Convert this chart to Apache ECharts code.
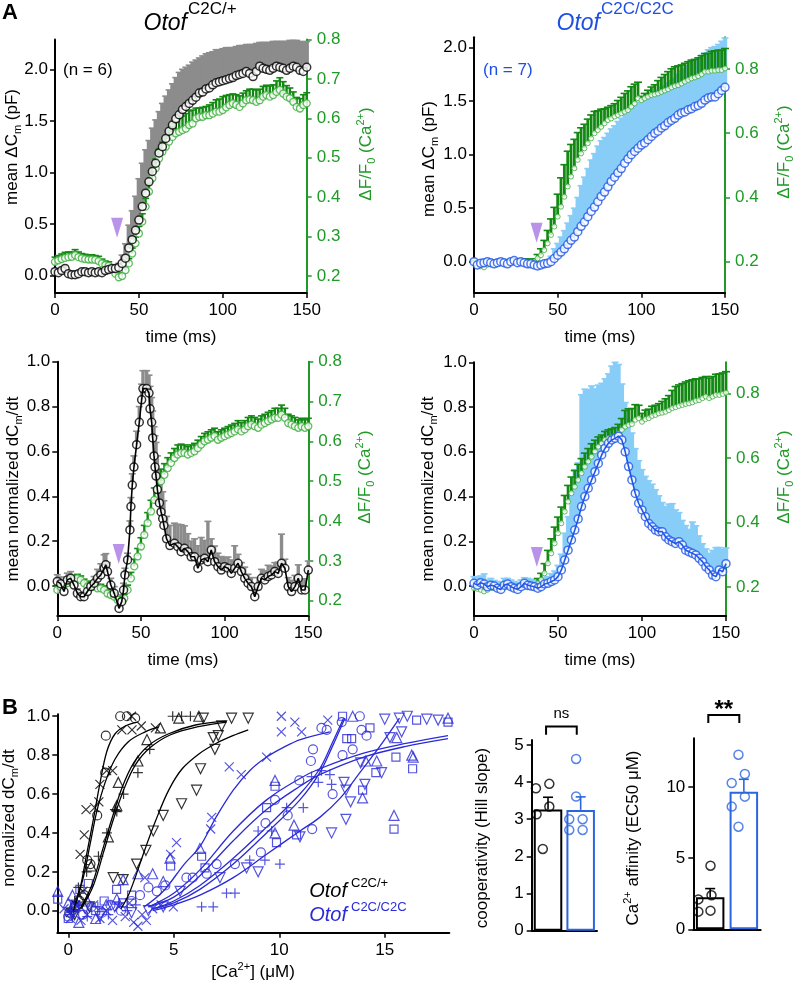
<!DOCTYPE html>
<html><head><meta charset="utf-8">
<script src="https://cdn.jsdelivr.net/npm/echarts@6/dist/echarts.min.js"></script>
<style>html,body{margin:0;padding:0;background:#fff}#wrap{position:relative;width:793px;height:985px}
.layer{position:absolute;left:0;top:0;width:793px;height:985px}#log{position:absolute;left:0;top:0;font:11px monospace;white-space:pre-wrap;color:red;z-index:99}</style>
</head><body><div id="wrap"></div><div id="log"></div>
<script>
// ---------- DATA ----------
const time2 = [0,2,4,6,8,10,12,14,16,18,
20,22,24,26,28,30,32,34,36,38,
40,42,44,46,48,50,52,54,56,58,
60,62,64,66,68,70,72,74,76,78,
80,82,84,86,88,90,92,94,96,98,
100,102,104,106,108,110,112,114,116,118,
120,122,124,126,128,130,132,134,136,138,
140,142,144,146,148,150];

const tlCm = [0.04,0.03,0.05,0.07,0.02,0.01,0.01,0.02,0.04,0.04,
0.03,0.04,0.03,0.04,0.03,0.05,0.06,0.07,0.07,0.08,
0.12,0.17,0.27,0.35,0.44,0.54,0.67,0.80,0.91,1.01,
1.09,1.19,1.25,1.33,1.40,1.46,1.52,1.56,1.61,1.64,
1.67,1.70,1.73,1.77,1.78,1.81,1.82,1.85,1.87,1.88,
1.89,1.90,1.91,1.92,1.94,1.95,1.96,1.98,1.96,1.93,
1.98,2.03,2.01,2.00,1.99,2.01,2.03,2.02,2.01,1.99,
2.01,2.03,2.02,1.99,1.98,2.02];
const tlCmErr = [0.03,0.03,0.03,0.03,0.02,0.02,0.02,0.02,0.02,0.02,
0.02,0.02,0.02,0.02,0.02,0.03,0.03,0.03,0.03,0.04,
0.08,0.14,0.22,0.28,0.33,0.40,0.42,0.42,0.40,0.42,
0.42,0.40,0.42,0.41,0.40,0.40,0.40,0.41,0.39,0.38,
0.37,0.37,0.36,0.34,0.35,0.34,0.34,0.32,0.32,0.31,
0.31,0.31,0.30,0.29,0.28,0.28,0.27,0.26,0.28,0.31,
0.27,0.23,0.25,0.26,0.27,0.26,0.24,0.25,0.26,0.28,
0.27,0.25,0.26,0.28,0.28,0.25];
const tlCa = [0.236,0.240,0.243,0.246,0.248,0.249,0.253,0.248,0.245,0.243,
0.242,0.242,0.241,0.238,0.232,0.228,0.226,0.218,0.206,0.197,
0.200,0.215,0.232,0.257,0.283,0.308,0.338,0.376,0.414,0.448,
0.473,0.498,0.515,0.528,0.541,0.553,0.562,0.566,0.570,0.574,
0.583,0.587,0.600,0.604,0.604,0.608,0.608,0.612,0.617,0.617,
0.621,0.628,0.634,0.638,0.634,0.629,0.638,0.646,0.648,0.646,
0.642,0.646,0.655,0.659,0.655,0.659,0.667,0.672,0.663,0.655,
0.651,0.642,0.629,0.625,0.634,0.638];
const tlCaErr = [0.012,0.012,0.013,0.014,0.013,0.012,0.014,0.013,0.012,0.012,
0.011,0.012,0.011,0.012,0.011,0.010,0.010,0.009,0.009,0.008,
0.008,0.010,0.012,0.014,0.016,0.018,0.020,0.021,0.022,0.022,
0.024,0.024,0.025,0.026,0.026,0.027,0.030,0.034,0.036,0.038,
0.036,0.034,0.026,0.022,0.024,0.022,0.026,0.028,0.030,0.032,
0.034,0.030,0.026,0.024,0.026,0.028,0.026,0.024,0.026,0.028,
0.030,0.028,0.026,0.025,0.027,0.026,0.028,0.031,0.030,0.028,
0.026,0.025,0.024,0.025,0.026,0.027];

const trCm = [0.00,-0.03,-0.015,-0.01,0.00,-0.01,-0.02,-0.01,0.00,-0.01,
-0.02,0.00,0.01,-0.01,0.00,-0.01,-0.02,-0.02,-0.03,-0.04,
-0.03,-0.02,-0.015,0.00,0.03,0.06,0.09,0.12,0.16,0.20,
0.23,0.28,0.33,0.37,0.42,0.47,0.51,0.56,0.61,0.65,
0.70,0.75,0.79,0.83,0.87,0.92,0.96,1.00,1.03,1.06,
1.09,1.11,1.14,1.17,1.20,1.22,1.25,1.27,1.30,1.32,
1.34,1.37,1.39,1.40,1.42,1.43,1.45,1.46,1.48,1.51,
1.53,1.54,1.54,1.57,1.60,1.63];
const trCmErr = [0.02,0.02,0.02,0.02,0.02,0.02,0.02,0.02,0.02,0.02,
0.02,0.02,0.02,0.02,0.02,0.02,0.02,0.02,0.02,0.02,
0.02,0.02,0.03,0.05,0.09,0.11,0.14,0.17,0.20,0.23,
0.27,0.32,0.38,0.42,0.45,0.48,0.50,0.52,0.52,0.51,
0.50,0.49,0.48,0.48,0.47,0.47,0.46,0.45,0.44,0.43,
0.42,0.42,0.41,0.40,0.39,0.38,0.38,0.37,0.37,0.37,
0.37,0.38,0.39,0.40,0.41,0.42,0.43,0.44,0.44,0.44,
0.45,0.46,0.47,0.46,0.46,0.46];
const trCa = [0.195,0.190,0.185,0.182,0.190,0.192,0.195,0.196,0.195,0.196,
0.197,0.198,0.199,0.198,0.199,0.200,0.199,0.200,0.200,0.210,
0.220,0.236,0.257,0.283,0.309,0.340,0.371,0.402,0.434,0.465,
0.491,0.517,0.537,0.553,0.569,0.584,0.600,0.610,0.620,0.631,
0.641,0.646,0.652,0.657,0.662,0.667,0.672,0.683,0.693,0.709,
0.703,0.709,0.714,0.719,0.721,0.724,0.729,0.733,0.737,0.743,
0.747,0.750,0.755,0.761,0.766,0.771,0.774,0.778,0.784,0.792,
0.792,0.795,0.795,0.797,0.797,0.802];
const trCaErr = [0.008,0.008,0.008,0.008,0.008,0.008,0.008,0.008,0.008,0.008,
0.008,0.008,0.008,0.008,0.008,0.008,0.008,0.008,0.008,0.012,
0.020,0.030,0.040,0.050,0.060,0.070,0.090,0.100,0.110,0.100,
0.090,0.085,0.080,0.075,0.075,0.073,0.068,0.060,0.055,0.045,
0.040,0.040,0.040,0.045,0.050,0.057,0.060,0.062,0.060,0.050,
0.012,0.015,0.020,0.025,0.030,0.040,0.045,0.050,0.055,0.058,
0.060,0.060,0.058,0.057,0.057,0.057,0.056,0.057,0.058,0.056,
0.057,0.060,0.062,0.062,0.062,0.062];

const blTime = [0,2,4,6,8,10,12,14,16,18,
20,22,24,26,28,29,30,32,34,36.9,
38.5,39.6,40.4,42,43.4,44,44.8,45.8,47.4,49,
50.4,51.2,53.4,54.8,55.4,56.4,57,57.8,58.4,59,
59.8,61,62,63,63.7,65.3,67.3,70,72,74,
76,78,80,82,84,86,88,90,92,94,
96,98,100,102,104,106,108,110,112,114,
116,118,120,122,124,126,128,130,132,134,
136,138,140,142,144,146,148,150];
const blRate = [0.02,0.01,-0.025,0.027,0.034,0.004,-0.033,-0.048,-0.048,-0.025,
-0.003,0.012,0.034,0.049,0.079,0.094,0.064,0.004,-0.033,-0.1,
-0.07,-0.018,0.049,0.116,0.25,0.354,0.45,0.53,0.63,0.73,
0.83,0.88,0.88,0.86,0.79,0.73,0.66,0.58,0.53,0.49,
0.43,0.37,0.33,0.30,0.27,0.21,0.18,0.19,0.175,0.153,
0.168,0.153,0.13,0.13,0.079,0.116,0.123,0.108,0.16,0.108,
0.086,0.071,0.086,0.079,0.056,0.079,0.101,0.064,0.034,0.012,
-0.003,-0.048,-0.003,0.034,0.027,0.042,0.049,0.064,0.056,0.101,
0.079,-0.003,-0.025,-0.003,0.034,-0.018,-0.018,0.071];
const blRateErr = [0.03,0.03,0.04,0.03,0.03,0.03,0.02,0.02,0.02,0.02,
0.02,0.03,0.04,0.05,0.06,0.05,0.04,0.03,0.03,0.03,
0.03,0.03,0.03,0.03,0.04,0.04,0.05,0.05,0.06,0.07,
0.07,0.08,0.08,0.08,0.10,0.11,0.12,0.13,0.14,0.15,
0.15,0.15,0.14,0.12,0.11,0.10,0.09,0.09,0.10,0.12,
0.10,0.08,0.07,0.08,0.10,0.10,0.08,0.18,0.05,0.07,
0.06,0.06,0.04,0.05,0.06,0.10,0.04,0.04,0.05,0.04,
0.04,0.04,0.04,0.04,0.04,0.05,0.04,0.04,0.05,0.13,
0.04,0.04,0.05,0.05,0.06,0.05,0.05,0.04];
const blCa = [0.227,0.235,0.239,0.244,0.248,0.252,0.256,0.252,0.244,0.235,
0.239,0.235,0.231,0.231,0.227,0.218,0.214,0.210,0.202,0.197,
0.206,0.227,0.256,0.286,0.311,0.336,0.365,0.395,0.424,0.453,
0.479,0.500,0.516,0.533,0.546,0.558,0.567,0.571,0.571,0.567,
0.571,0.575,0.583,0.592,0.600,0.604,0.609,0.613,0.604,0.609,
0.613,0.617,0.621,0.625,0.630,0.625,0.630,0.638,0.642,0.638,
0.634,0.642,0.646,0.651,0.655,0.659,0.659,0.667,0.659,0.646,
0.642,0.638,0.634,0.638,0.634,0.638];
const blCaErr = [0.010,0.010,0.011,0.012,0.012,0.011,0.010,0.010,0.010,0.010,
0.010,0.010,0.010,0.010,0.010,0.010,0.009,0.009,0.008,0.008,
0.010,0.012,0.015,0.018,0.020,0.022,0.024,0.026,0.028,0.030,
0.030,0.030,0.028,0.026,0.025,0.024,0.024,0.022,0.020,0.020,
0.020,0.020,0.020,0.020,0.020,0.020,0.020,0.020,0.020,0.020,
0.020,0.020,0.020,0.020,0.022,0.022,0.022,0.022,0.022,0.022,
0.022,0.022,0.022,0.022,0.022,0.024,0.024,0.024,0.024,0.022,
0.022,0.022,0.020,0.020,0.020,0.020];

const brRate = [0.012,0.004,0.015,0.009,-0.003,0.004,0.0,-0.010,-0.015,0.004,
0.009,-0.003,-0.010,-0.015,-0.003,0.012,0.004,0.0,-0.003,-0.010,
-0.003,0.009,0.012,0.020,0.027,0.042,0.072,0.116,0.160,0.206,
0.250,0.300,0.355,0.400,0.437,0.474,0.511,0.548,0.586,0.616,
0.638,0.653,0.660,0.670,0.653,0.600,0.534,0.474,0.414,0.370,
0.340,0.310,0.280,0.265,0.250,0.243,0.243,0.220,0.206,0.198,
0.190,0.198,0.183,0.160,0.153,0.146,0.139,0.124,0.109,0.086,
0.072,0.049,0.042,0.072,0.064,0.100];
const brRateErr = [0.03,0.035,0.03,0.045,0.03,0.03,0.025,0.03,0.03,0.03,
0.025,0.03,0.03,0.03,0.03,0.025,0.03,0.03,0.03,0.03,
0.03,0.03,0.03,0.035,0.04,0.05,0.07,0.12,0.15,0.20,
0.27,0.25,0.50,0.48,0.44,0.42,0.37,0.35,0.32,0.31,
0.31,0.33,0.34,0.32,0.25,0.22,0.21,0.21,0.20,0.19,
0.18,0.18,0.19,0.19,0.18,0.16,0.13,0.135,0.16,0.17,
0.15,0.13,0.11,0.11,0.10,0.14,0.13,0.10,0.08,0.08,
0.074,0.11,0.13,0.10,0.10,0.07];
const brCa = [0.197,0.195,0.192,0.187,0.192,0.197,0.198,0.199,0.199,0.200,
0.200,0.200,0.199,0.200,0.201,0.200,0.200,0.201,0.202,0.212,
0.223,0.243,0.274,0.305,0.336,0.367,0.398,0.434,0.465,0.491,
0.511,0.532,0.553,0.573,0.589,0.604,0.620,0.635,0.645,0.656,
0.661,0.664,0.668,0.676,0.687,0.697,0.702,0.705,0.718,0.723,
0.712,0.720,0.723,0.730,0.733,0.738,0.740,0.743,0.748,0.754,
0.757,0.761,0.764,0.767,0.769,0.772,0.777,0.779,0.785,0.790,
0.785,0.790,0.795,0.795,0.798,0.802];
const brCaErr = [0.008,0.008,0.008,0.008,0.008,0.008,0.008,0.008,0.008,0.008,
0.008,0.008,0.008,0.008,0.008,0.008,0.008,0.008,0.010,0.015,
0.020,0.030,0.040,0.045,0.050,0.050,0.050,0.050,0.050,0.050,
0.050,0.048,0.045,0.042,0.040,0.040,0.035,0.030,0.026,0.026,
0.026,0.026,0.026,0.028,0.035,0.050,0.050,0.048,0.047,0.040,
0.026,0.028,0.028,0.030,0.030,0.030,0.035,0.040,0.045,0.055,
0.064,0.065,0.066,0.068,0.070,0.070,0.068,0.066,0.064,0.062,
0.062,0.062,0.064,0.065,0.065,0.065];

const stimTL = [[37, 0.465]];
const stimTR = [[37.4, 0.27]];
const stimBL = [[36.7, 0.143]];
const stimBR = [[37.4, 0.13]];

const hetCircle = [[0.05,-0.01],[0.3,0.02],[0.55,0.05],[0.75,0.08],[0.9,0.26],[1.05,0.24],[1.37,0.49],[1.75,0.71],[1.78,0.9],[2.46,1.0],[2.78,1.0],[3.17,0.99]];
const hetCross = [[0.1,-0.01],[0.35,0.03],[0.56,0.29],[0.76,0.39],[0.84,0.52],[0.7,0.1],[1.25,0.53],[1.45,0.56],[1.5,0.65],[1.82,0.72],[2.1,0.72],[2.54,0.93],[3.02,0.93],[3.46,0.95],[4.13,0.94],[3.0,1.0]];
const hetPlus = [[0.15,0.0],[0.3,0.05],[0.48,0.12],[0.87,0.2],[1.43,0.28],[1.83,0.4],[2.21,0.52],[2.3,0.51],[2.62,0.6],[3.3,0.71],[3.86,0.83],[4.95,1.0],[5.37,1.0],[5.79,1.0]];
const hetTri = [[0.2,0.02],[0.5,0.07],[1.08,0.23],[1.9,0.38],[2.3,0.54],[2.37,0.66],[3.3,0.77],[3.73,0.88],[4.37,0.94],[5.24,0.99],[6.19,1.0]];
const hetTriDown = [[0.3,-0.02],[1.0,0.02],[2.13,0.17],[2.6,0.16],[3.24,0.24],[3.68,0.31],[4.03,0.41],[4.5,0.49],[5.37,0.55],[6.08,0.62],[6.27,0.73],[6.95,0.83],[6.87,0.89],[7.11,0.9],[7.27,0.95],[6.4,0.99],[7.74,0.99],[8.53,0.99]];

const homCross = [[-0.2,0.01],[0.1,-0.04],[0.4,0.02],[0.6,-0.05],[0.9,-0.02],[1.2,0.03],[1.5,-0.04],[1.8,0.0],[2.1,-0.05],[2.4,0.02],[2.7,-0.03],[2.9,0.04],[3.1,-0.06],[3.3,-0.08],[3.5,-0.02],[3.7,-0.05],[4.0,0.01],[4.4,0.03],[4.98,0.02],[3.63,0.17],[4.85,0.29],[5.13,0.35],[6.75,0.42],[6.8,0.48],[7.63,0.74],[8.2,0.7],[9.4,0.79],[10.1,1.0],[10.1,0.92],[10.74,0.97],[11.06,0.92],[12.3,0.98]];
const homCircle = [[0.0,-0.03],[0.3,0.01],[0.7,-0.02],[1.1,0.02],[1.6,-0.01],[2.0,0.03],[2.5,0.0],[3.0,0.05],[3.4,0.08],[3.8,0.12],[4.2,0.1],[4.6,0.13],[5.6,0.17],[5.9,0.17],[6.56,0.19],[7.03,0.24],[7.9,0.24],[9.13,0.3],[9.35,0.45],[9.8,0.57],[10.4,0.49],[10.95,0.67],[11.56,0.42],[11.5,0.77],[11.6,0.83],[12.0,0.94],[12.25,0.93],[12.53,0.6],[12.96,0.97],[13.0,0.8],[13.48,0.83],[13.82,1.0],[13.9,0.93],[14.14,0.9]];
const homPlus = [[0.1,0.0],[0.5,0.03],[0.9,-0.03],[1.4,0.02],[1.9,-0.02],[2.4,0.04],[2.8,0.0],[3.2,0.03],[6.32,0.02],[6.87,0.02],[7.5,0.09],[7.9,0.09],[8.6,0.26],[9.32,0.26],[9.0,0.41],[9.64,0.41],[10.03,0.24],[10.35,0.53],[11.14,0.53],[11.53,0.69],[11.85,0.66],[12.0,0.72],[12.4,0.7],[12.48,0.65]];
const homTri = [[-0.5,0.1],[0.0,0.04],[0.2,0.08],[0.5,-0.06],[0.9,0.05],[1.3,-0.04],[1.8,0.03],[2.3,0.06],[2.6,0.16],[3.3,0.19],[4.0,0.19],[4.5,0.15],[4.82,0.27],[6.24,0.32],[9.8,0.67],[9.8,0.4],[10.7,0.44],[13.48,1.0],[13.95,0.58],[14.1,0.77],[14.62,0.77],[15.44,0.49],[15.57,0.89],[16.28,0.8],[16.35,0.79],[18.0,0.99]];
const homSquare = [[-0.5,0.06],[0.0,-0.04],[0.3,0.02],[0.55,0.11],[0.95,0.14],[1.3,0.0],[1.7,0.05],[2.29,0.11],[2.6,0.04],[3.0,0.08],[4.85,0.23],[6.32,0.28],[6.48,0.22],[9.4,0.53],[9.8,0.64],[9.87,0.35],[10.82,0.39],[13.0,1.0],[13.2,0.885],[13.43,0.885],[13.95,0.62],[14.3,0.94],[14.58,0.71],[15.44,0.42],[15.53,0.79],[16.32,0.73],[16.51,0.98],[18.0,0.97]];
const homTriDown = [[0.2,-0.02],[0.8,0.01],[1.5,-0.03],[2.2,0.02],[3.0,-0.01],[3.8,0.0],[4.5,0.02],[5.3,0.1],[7.19,0.17],[8.45,0.22],[9.0,0.2],[10.98,0.38],[12.48,0.4],[13.16,0.47],[13.38,0.56],[13.16,0.62],[13.07,0.66],[14.06,0.65],[14.85,0.71],[13.86,0.76],[15.25,0.89],[15.8,0.92],[15.0,0.985],[15.69,0.99],[16.07,1.0],[16.99,0.985],[17.53,0.98]];

const hetCircleFit = [[0.24,0.0],[0.56,0.115],[0.87,0.29],[1.19,0.47],[1.51,0.66],[1.83,0.82],[2.22,0.91],[2.7,0.95],[3.25,0.97]];
const hetCrossFit = [[0.32,0.03],[0.71,0.17],[1.03,0.34],[1.35,0.51],[1.75,0.66],[2.22,0.78],[2.86,0.87],[3.65,0.92],[4.29,0.945]];
const hetPlusFit = [[0.56,0.01],[1.11,0.13],[1.59,0.3],[2.06,0.47],[2.54,0.63],[3.1,0.76],[3.81,0.85],[4.76,0.91],[6.03,0.955],[7.5,0.975]];
const hetTriFit = [[0.62,0.01],[1.19,0.13],[1.67,0.3],[2.14,0.47],[2.62,0.62],[3.18,0.75],[3.9,0.84],[4.85,0.905],[6.1,0.945],[7.5,0.97]];
const hetTriDownFit = [[2.5,0.01],[2.85,0.08],[3.17,0.17],[3.65,0.32],[4.13,0.46],[4.76,0.62],[5.4,0.73],[6.24,0.81],[7.0,0.86],[7.8,0.9],[8.53,0.93]];
const homCrossFit = [[3.6,0.02],[4.5,0.1],[5.5,0.24],[6.24,0.33],[7.0,0.48],[7.82,0.62],[8.6,0.72],[9.4,0.79],[10.2,0.84],[11.0,0.88],[12.4,0.92]];
const homCircleFit = [[3.8,0.02],[5.0,0.09],[6.24,0.21],[7.82,0.41],[9.4,0.57],[10.98,0.68],[11.92,0.73],[14.0,0.81],[16.0,0.86],[18.0,0.9]];
const homTriFit = [[3.8,0.02],[5.0,0.07],[6.24,0.18],[7.82,0.36],[9.4,0.52],[10.98,0.64],[11.92,0.70],[14.0,0.79],[16.0,0.845],[18.0,0.885]];
const homPlusFit = [[4.0,0.01],[5.0,0.04],[6.24,0.11],[7.82,0.24],[9.4,0.4],[10.98,0.57],[11.92,0.71],[12.5,0.84],[13.11,0.99]];
const homSquareFit = [[4.0,0.01],[5.0,0.05],[6.24,0.13],[7.82,0.27],[9.4,0.43],[10.98,0.6],[11.92,0.73],[12.5,0.86],[13.05,0.99]];
const homTriDownFit = [[4.0,0.0],[5.0,0.03],[6.24,0.08],[7.82,0.17],[9.4,0.29],[10.98,0.41],[11.92,0.48],[12.9,0.58],[13.82,0.71],[14.8,0.85],[15.7,0.99]];

const groupSlot = [0.5, 1.5];
const coopMean = [3.26, 3.25];
const coopSem = [0.33, 0.35];
const coopHet = [[0.13,3.83],[0.54,3.95],[0.54,3.34],[0.15,3.13],[0.34,2.2]];
const coopHom = [[1.36,4.62],[1.36,3.61],[1.15,3.0],[1.56,3.0],[1.15,2.71],[1.56,2.71]];
const ec50Mean = [2.25, 9.67];
const ec50Sem = [0.61, 0.87];
const ec50Het = [[0.51,4.47],[0.15,2.1],[0.54,2.39],[0.15,1.24],[0.51,1.31]];
const ec50Hom = [[1.34,12.27],[1.53,10.91],[1.14,10.28],[1.53,9.32],[1.14,8.62],[1.34,7.21]];
const coopBracket = [[0.44, 1.38, 5.49, 5.27, 5.62]];
const ec50Bracket = [[0.445, 1.365, 15.06, 14.5, 15.4]];
const coopSig = ['ns'];
const ec50Sig = ['**'];

// ---------- STYLE ----------
const FF = "'Liberation Sans', Arial, Helvetica, sans-serif";
const GRAY = '#8c8c8c', GREEN_AX = '#1f9a26', GREEN_ERR = '#138813', GREEN_PT = '#3aac3a';
const BLUE_PT = '#1f55e8', LIGHTBLUE = '#87cdf7', BLUE_TXT = '#1f4fe0', BLUE_B = '#2a2ad8';
const BAR_BLUE = '#2c66dd', PURPLE = '#a877e3';

const zip3 = (a,b,c) => a.map((t,i)=>[t,b[i],c[i]]);
const zip2 = (a,b) => a.map((t,i)=>[t,b[i]]);
const log = m => document.getElementById('log').textContent += m + '\n';

function xTime(){
  return {type:'value', min:0, max:150, interval:50,
    axisLine:{onZero:false, lineStyle:{color:'#000', width:2}},
    axisTick:{length:5, lineStyle:{color:'#000', width:1.5}},
    axisLabel:{fontSize:17, color:'#000', margin:9, fontFamily:FF},
    splitLine:{show:false}};
}
function yAx(min, max, ticks, color, pos, dig, margin){
  return {type:'value', min, max, position:pos,
    axisLine:{show:true, onZero:false, lineStyle:{color, width:2}},
    axisTick:{show:true, length:5, customValues:ticks, lineStyle:{color, width:1.5}},
    axisLabel:{customValues:ticks, fontSize:17, color, margin:margin||7, fontFamily:FF,
      formatter:v=>v.toFixed(dig)},
    splitLine:{show:false}};
}
function errS(yi, data, color, w, cap){
  return {type:'custom', xAxisIndex:0, yAxisIndex:yi, data, silent:true, clip:false,
    renderItem:(p, api)=>{
      const t=api.value(0), m=api.value(1), e=api.value(2);
      const a=api.coord([t,m]), b=api.coord([t,m+e]);
      return {type:'group', children:[
        {type:'line', shape:{x1:a[0],y1:a[1],x2:b[0],y2:b[1]}, style:{stroke:color, lineWidth:w}},
        {type:'line', shape:{x1:b[0]-cap,y1:b[1],x2:b[0]+cap,y2:b[1]}, style:{stroke:color, lineWidth:1.6}}
      ]};
    }};
}
function dots(yi, data, color, size, bw){
  return {type:'scatter', xAxisIndex:0, yAxisIndex:yi, data, symbol:'circle', symbolSize:size, silent:true,
    itemStyle:{color:'#fff', borderColor:color, borderWidth:bw||1.5}};
}
function trace(yi, data, color){
  return {type:'line', xAxisIndex:0, yAxisIndex:yi, data, symbol:'none', silent:true,
    lineStyle:{color, width:1.6}};
}
function stim(yi, data){
  return {type:'scatter', xAxisIndex:0, yAxisIndex:yi, data, symbol:'triangle', symbolRotate:180,
    symbolSize:[12,20], itemStyle:{color:PURPLE}, silent:true};
}
const SYM = {
  circle:{symbol:'circle', size:9},
  cross:{symbol:'path://M0,0L10,10M10,0L0,10', size:9},
  plus:{symbol:'path://M5,0L5,10M0,5L10,5', size:10},
  tri:{symbol:'triangle', size:10},
  triDown:{symbol:'triangle', size:10, rot:180},
  square:{symbol:'rect', size:8}
};
function pts(data, kind, color){
  const s = SYM[kind];
  return {type:'scatter', data, symbol:s.symbol, symbolSize:s.size, symbolRotate:s.rot||0, silent:true,
    itemStyle:{color:'rgba(0,0,0,0)', borderColor:color, borderWidth:1.2}};
}
function fit(data, color){
  return {type:'line', data, symbol:'none', smooth:0.35, silent:true, lineStyle:{color, width:1.3}};
}
function bracketS(data, labels){
  return {type:'custom', data, clip:false, silent:true,
    renderItem:(p, api)=>{
      const x1=api.value(0), x2=api.value(1), yl=api.value(2), yg=api.value(3), yt=api.value(4);
      const a=api.coord([x1,yg]), b=api.coord([x1,yl]), c=api.coord([x2,yl]), d=api.coord([x2,yg]);
      const t=api.coord([(x1+x2)/2, yt]);
      const lab = labels[p.dataIndex];
      const star = lab === '**';
      return {type:'group', children:[
        {type:'polyline', shape:{points:[a,b,c,d]}, style:{stroke:'#000', lineWidth:2, fill:null}},
        {type:'text', x:t[0], y:t[1], style:{text:lab, fill:'#000', fontFamily:FF,
          fontSize: star ? 24 : 15, fontWeight: star ? 'bold' : 'normal',
          align:'center', verticalAlign: star ? 'middle' : 'bottom'}}
      ]};
    }};
}
function barS(means){
  return {type:'bar', barWidth:28.5, silent:true,
    data:[{value:[groupSlot[0], means[0]], itemStyle:{borderColor:'#000'}},
          {value:[groupSlot[1], means[1]], itemStyle:{borderColor:BAR_BLUE}}],
    itemStyle:{color:'#fff', borderWidth:2}};
}
function barPts(data, color){
  return {type:'scatter', data, symbol:'circle', symbolSize:9, silent:true,
    itemStyle:{color:'rgba(0,0,0,0)', borderColor:color, borderWidth:1.5}};
}
function barErr(means, sems, colors){
  return groupSlot.map((x,i)=>errS(0, [[x, means[i], sems[i]]], colors[i], 1.6, 5));
}
const barX = {type:'value', min:0, max:2, axisLine:{onZero:false, lineStyle:{color:'#000', width:2}},
  axisTick:{show:false}, axisLabel:{show:false}, splitLine:{show:false}};

// ---------- PANELS (one chart instance each, stacked) ----------
const panels = [];
panels.push({grid:{left:55, top:39.5, width:251.7, height:253.5}, xAxis:xTime(),
  yAxis:[yAx(-0.167, 2.289, [0,0.5,1,1.5,2], '#000', 'left', 1), yAx(0.157, 0.8, [0.2,0.3,0.4,0.5,0.6,0.7,0.8], GREEN_AX, 'right', 1, 10)],
  series:[errS(0, zip3(time2,tlCm,tlCmErr), GRAY, 4.4, 3.5), errS(1, zip3(time2,tlCa,tlCaErr), GREEN_ERR, 2.4, 3.5),
    dots(1, zip2(time2,tlCa), GREEN_PT, 7, 1.3), dots(0, zip2(time2,tlCm), '#000', 8), stim(0, stimTL)]});
panels.push({grid:{left:474, top:37.3, width:251, height:255.4}, xAxis:xTime(),
  yAxis:[yAx(-0.29, 2.097, [0,0.5,1,1.5,2], '#000', 'left', 1), yAx(0.103, 0.899, [0.2,0.4,0.6,0.8], GREEN_AX, 'right', 1, 10)],
  series:[errS(0, zip3(time2,trCm,trCmErr), LIGHTBLUE, 4.4, 3.5), errS(1, zip3(time2,trCa,trCaErr), GREEN_ERR, 2.8, 4),
    dots(1, zip2(time2,trCa), GREEN_PT, 5, 1), dots(0, zip2(time2,trCm), BLUE_PT, 8), stim(0, stimTR)]});
panels.push({grid:{left:57.3, top:361.7, width:251, height:254.3}, xAxis:xTime(),
  yAxis:[yAx(-0.134, 1.0, [0,0.2,0.4,0.6,0.8,1.0], '#000', 'left', 1), yAx(0.1615, 0.8, [0.2,0.3,0.4,0.5,0.6,0.7,0.8], GREEN_AX, 'right', 1, 10)],
  series:[errS(0, zip3(blTime,blRate,blRateErr), GRAY, 3.4, 3.5), errS(1, zip3(time2,blCa,blCaErr), GREEN_ERR, 2.4, 3.5),
    dots(1, zip2(time2,blCa), GREEN_PT, 7, 1.3), trace(0, zip2(blTime,blRate), '#000'),
    dots(0, zip2(blTime,blRate), '#000', 8), stim(0, stimBL)]});
panels.push({grid:{left:474, top:362.3, width:252, height:253.7}, xAxis:xTime(),
  yAxis:[yAx(-0.134, 1.0, [0,0.2,0.4,0.6,0.8,1.0], '#000', 'left', 1), yAx(0.111, 0.896, [0.2,0.4,0.6,0.8], GREEN_AX, 'right', 1, 10)],
  series:[errS(0, zip3(time2,brRate,brRateErr), LIGHTBLUE, 4.4, 3.5), errS(1, zip3(time2,brCa,brCaErr), GREEN_ERR, 2.8, 4),
    dots(1, zip2(time2,brCa), GREEN_PT, 5, 1), trace(0, zip2(time2,brRate), BLUE_PT),
    dots(0, zip2(time2,brRate), BLUE_PT, 8), stim(0, stimBR)]});
panels.push({grid:{left:57.3, top:714.3, width:392, height:218.4},
  xAxis:{type:'value', min:-0.52, max:18.06,
    axisLine:{onZero:false, lineStyle:{color:'#000', width:2}},
    axisTick:{length:5, customValues:[0,5,10,15], lineStyle:{color:'#000', width:1.5}},
    axisLabel:{customValues:[0,5,10,15], fontSize:17, color:'#000', margin:9, fontFamily:FF},
    splitLine:{show:false}},
  yAxis:yAx(-0.113, 1.01, [0,0.2,0.4,0.6,0.8,1.0], '#000', 'left', 1),
  series:[
    fit(hetCircleFit,'#000'), fit(hetCrossFit,'#000'), fit(hetPlusFit,'#000'), fit(hetTriFit,'#000'), fit(hetTriDownFit,'#000'),
    pts(hetCircle,'circle','#000'), pts(hetCross,'cross','#000'), pts(hetPlus,'plus','#000'),
    pts(hetTri,'tri','#000'), pts(hetTriDown,'triDown','#000'),
    fit(homCrossFit,BLUE_B), fit(homCircleFit,BLUE_B), fit(homTriFit,BLUE_B), fit(homPlusFit,BLUE_B),
    fit(homSquareFit,BLUE_B), fit(homTriDownFit,BLUE_B),
    pts(homCross,'cross',BLUE_B), pts(homCircle,'circle',BLUE_B), pts(homPlus,'plus',BLUE_B),
    pts(homTri,'tri',BLUE_B), pts(homSquare,'square',BLUE_B), pts(homTriDown,'triDown',BLUE_B)]});
panels.push({grid:{left:531.7, top:740, width:65.3, height:190.7}, xAxis:barX,
  yAxis:yAx(0, 5.13, [0,1,2,3,4,5], '#000', 'left', 0, 8),
  series:[barS(coopMean), ...barErr(coopMean, coopSem, ['#000', BAR_BLUE]),
    barPts(coopHet, '#000'), barPts(coopHom, BAR_BLUE), bracketS(coopBracket, coopSig)]});
panels.push({grid:{left:693.3, top:738.3, width:67.4, height:191}, xAxis:barX,
  yAxis:yAx(0, 13.42, [0,5,10], '#000', 'left', 0, 8),
  series:[barS(ec50Mean), ...barErr(ec50Mean, ec50Sem, ['#000', BAR_BLUE]),
    barPts(ec50Het, '#000'), barPts(ec50Hom, BAR_BLUE), bracketS(ec50Bracket, ec50Sig)]});

// ---------- TEXT ----------
const RICH = {
  n:{fontSize:17, lineHeight:22, fontFamily:FF, fontWeight:'normal'},
  s:{fontSize:11, lineHeight:10, verticalAlign:'bottom', fontFamily:FF, fontWeight:'normal'},
  p:{fontSize:11, lineHeight:10, verticalAlign:'top', fontFamily:FF, fontWeight:'normal'}
};
function ttl(x, y, text, color, rot){
  return {type:'text', x, y, rotation: rot ? Math.PI/2 : 0, silent:true,
    style:{text, fill:color, rich:RICH, fontSize:17, fontFamily:FF, fontWeight:'normal',
      align:'center', verticalAlign:'middle'}};
}
// f = [size, weight, style]
function txt(x, y, text, color, f, align, valign, rot){
  return {type:'text', x, y, rotation: rot ? Math.PI/2 : 0, silent:true,
    style:{text, fill:color, fontSize:f[0], fontWeight:f[1]||'normal', fontStyle:f[2]||'normal',
      fontFamily:FF, align:align||'left', verticalAlign:valign||'middle'}};
}
const F17 = [17];
const graphics = [
  txt(2, 2, 'A', '#000', [22,'bold'], 'left', 'top'),
  txt(2, 697, 'B', '#000', [22,'bold'], 'left', 'top'),
  txt(187, 24, 'Otof', '#000', [23,'normal','italic'], 'right'),
  txt(188, 9, 'C2C/+', '#000', F17, 'left'),
  txt(600, 24, 'Otof', BLUE_TXT, [23,'normal','italic'], 'right'),
  txt(601, 9, 'C2C/C2C', BLUE_TXT, F17, 'left'),
  txt(63, 70.5, '(n = 6)', '#000', F17, 'left'),
  txt(483, 70, '(n = 7)', BLUE_TXT, F17, 'left'),
  ttl(12.5, 147, '{n|mean ΔC}{s|m}{n| (pF)}', '#000', true),
  ttl(366, 154, '{n|ΔF/F}{s|0}{n| (Ca}{p|2+}{n|)}', GREEN_AX, true),
  txt(181, 337.5, 'time (ms)', '#000', F17, 'center'),
  ttl(429, 159, '{n|mean ΔC}{s|m}{n| (pF)}', '#000', true),
  ttl(784, 152, '{n|ΔF/F}{s|0}{n| (Ca}{p|2+}{n|)}', GREEN_AX, true),
  txt(600, 337.5, 'time (ms)', '#000', F17, 'center'),
  ttl(13, 489, '{n|mean normalized dC}{s|m}{n|/dt}', '#000', true),
  ttl(365, 477, '{n|ΔF/F}{s|0}{n| (Ca}{p|2+}{n|)}', GREEN_AX, true),
  txt(183, 660.5, 'time (ms)', '#000', F17, 'center'),
  ttl(428, 489, '{n|mean normalized dC}{s|m}{n|/dt}', '#000', true),
  ttl(784, 477, '{n|ΔF/F}{s|0}{n| (Ca}{p|2+}{n|)}', GREEN_AX, true),
  txt(600, 660.5, 'time (ms)', '#000', F17, 'center'),
  ttl(9, 818, '{n|normalized dC}{s|m}{n|/dt}', '#000', true),
  ttl(253, 972, '{n|[Ca}{p|2+}{n|] (μM)}', '#000', false),
  txt(482, 838, 'cooperativity (Hill slope)', '#000', F17, 'center', 'middle', true),
  ttl(633, 838, '{n|Ca}{p|2+}{n| affinity (EC50 μM)}', '#000', true),
  txt(347, 891, 'Otof', '#000', [20,'normal','italic'], 'right'),
  txt(351, 883, 'C2C/+', '#000', [13], 'left'),
  txt(347, 915, 'Otof', BLUE_B, [20,'normal','italic'], 'right'),
  txt(351, 907, 'C2C/C2C', BLUE_B, [13], 'left')
];

const wrap = document.getElementById('wrap');
function mount(name, opt){
  const d = document.createElement('div'); d.className = 'layer'; wrap.appendChild(d);
  try {
    const c = echarts.init(d, null, {renderer:'canvas'});
    c.setOption(Object.assign({animation:false, backgroundColor:'transparent', textStyle:{fontFamily:FF}}, opt));
  } catch(e){ log(name + ': ' + e.message); }
}
panels.forEach((p,i)=>mount('panel'+i, p));
mount('text', {graphic:graphics});
</script></body></html>
